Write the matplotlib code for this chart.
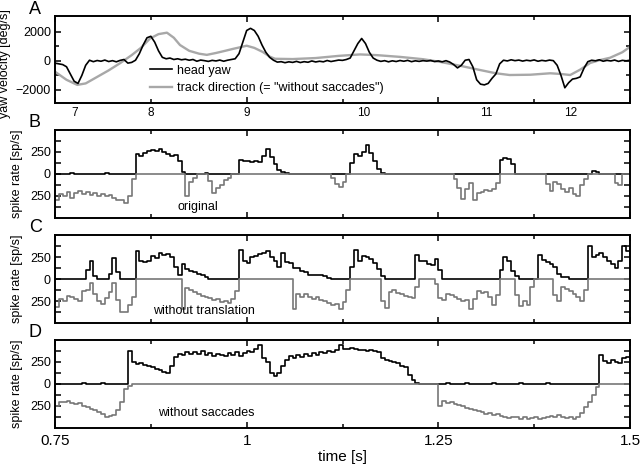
import numpy as np
import matplotlib.pyplot as plt

plt.rcParams['font.family'] = ['Liberation Sans', 'DejaVu Sans']

# sample spacing of the traces [s]
t0 = 0.75
dt = 0.005

# panel A: head yaw [deg/s], one value every 5 ms from 0.75 s
head_yaw = [
    -150, -200, -250, -400, -900, -1400, -1550, -1000, -300, 50,
    -50, 30, -20, 60, -40, 20, -60, 40, 100, -150,
    -100, 50, 500, 1100, 1600, 1700, 1300, 700, 250, 150,
    200, 100, 150, 80, 120, 50, 100, -20, 60, 20,
    -30, 40, 0, 60, -20, 50, 100, 150, 500, 1300,
    2100, 2250, 2100, 1700, 1100, 600, 250, 50, -80, -50,
    -120, -60, -100, -30, -110, -50, -90, 0, -70, -20,
    -60, 30, -40, 10, 60, 40, 100, 200, 700, 1200,
    1550, 1200, 600, 200, 50, -30, 20, -60, 10, -40,
    30, -20, 40, -50, 10, -30, 20, -10, 30, -40,
    0, -60, 20, -80, -250, -480, -300, 50, 100, -400,
    -1300, -1600, -1650, -1550, -1200, -900, -200, 50, 0, 80,
    20, 60, -10, 50, 10, 70, -20, 40, 0, 60,
    20, -300, -1000, -1850, -1500, -1250, -1200, -1100, -500, -50,
    50, 10, 80, -20, 40, 0, 60, -30, 40, 10,
    50,
]

# panel A: track direction [deg/s], knots
track_t = [0.75, 0.765, 0.779, 0.79, 0.80, 0.81, 0.82, 0.835, 0.85, 0.862,
           0.874, 0.885, 0.896, 0.905, 0.913, 0.925, 0.938, 0.948, 0.96, 0.972,
           0.982, 0.992, 1.0, 1.01, 1.021, 1.03, 1.037, 1.06, 1.09, 1.12,
           1.148, 1.17, 1.20, 1.23, 1.253, 1.28, 1.304, 1.325, 1.343, 1.37,
           1.396, 1.41, 1.422, 1.435, 1.448, 1.46, 1.474, 1.49, 1.50]
track_v = [-740, -1300, -1650, -1550, -1250, -950, -650, -150, 400, 900,
           1550, 1850, 1950, 1600, 1100, 700, 500, 420, 550, 700,
           830, 950, 1050, 900, 620, 300, 150, 130, 200, 350,
           450, 400, 280, 120, -70, -350, -620, -850, -970, -950,
           -850, -900, -970, -600, -140, 50, 220, 600, 970]

# panels B-D: spike rates [sp/s], one value every 5 ms from 0.75 s
b_black = [
    0, 0, 0, 0, 8, 0, 0, 0, 0, 0,
    0, 0, 0, 8, 0, 0, 0, 0, 0, 0,
    0, 230, 200, 240, 265, 275, 260, 280, 245, 225,
    205, 220, 150, 20, 0, 0, 0, 0, 0, 10,
    0, 0, 0, 0, 0, 0, 0, 0, 160, 145,
    150, 140, 150, 135, 200, 285, 190, 110, 50, 20,
    10, 0, 0, 0, 0, 0, 0, 0, 0, 0,
    0, 0, 0, 0, 0, 0, 0, 130, 230, 200,
    250, 330, 240, 150, 60, 10, 0, 0, 0, 0,
    0, 0, 0, 0, 0, 0, 0, 0, 0, 0,
    0, 0, 0, 0, 0, 0, 0, 0, 0, 0,
    0, 0, 0, 0, 0, 0, 160, 180, 170, 110,
    0, 0, 0, 0, 0, 0, 0, 0, 0, 0,
    0, 0, 0, 0, 0, 0, 0, 0, 0, 0,
    30, 20, 0, 0, 0, 0, 0, 0, 0, 0,
    0,
]
b_gray = [
    -300, -230, -250, -210, -270, -220, -190, -230, -200, -240,
    -215, -250, -225, -255, -240, -270, -300, -290, -330, -250,
    -60, 0, 0, 0, 0, 0, 0, 0, 0, 0,
    0, 0, 0, 0, -250, -90, -40, 0, 0, 0,
    -80, -220, -160, -120, -70, -40, 0, 0, 0, 0,
    0, 0, 0, 0, 0, 0, 0, 0, 0, 0,
    0, 0, 0, 0, 0, 0, 0, 0, 0, 0,
    0, 0, -50, -110, -150, -90, 0, 0, 0, 0,
    0, 0, 0, 0, 0, 0, 0, 0, 0, 0,
    0, 0, 0, 0, 0, 0, 0, 0, 0, 0,
    0, 0, 0, 0, -60, -160, -280, -170, -100, -300,
    -220, -200, -180, -190, -175, -100, 0, 0, 0, 0,
    0, 0, 0, 0, 0, 0, 0, 0, -110, -190,
    -90, -110, -170, -200, -160, -230, -250, -130, -60, 0,
    0, 0, 0, 0, 0, 0, -100, -120, 0, 0,
    0,
]
c_black = [
    0, 0, 0, 0, 0, 0, 0, 0, 100, 210,
    30, 0, 0, 0, 60, 240, 80, 0, 0, 0,
    0, 320, 200, 190, 200, 260, 240, 290, 270, 280,
    250, 140, 45, 170, 110, 90, 80, 60, 40, 25,
    0, 0, 0, 0, 0, 0, 0, 0, 330, 200,
    180, 250, 260, 280, 300, 320, 250, 210, 140, 300,
    190, 180, 130, 120, 90, 80, 50, 45, 40, 45,
    30, 10, 0, 0, 0, 0, 0, 140, 325, 200,
    260, 250, 230, 180, 110, 30, 0, 0, 0, 0,
    0, 0, 0, 0, 270, 210, 200, 175, 160, 230,
    100, 0, 0, 0, 0, 0, 0, 0, 0, 0,
    0, 0, 0, 0, 0, 0, 100, 250, 200, 90,
    30, 0, 0, 0, 0, 0, 270, 220, 190, 175,
    140, 60, 25, 20, 0, 0, 0, 0, 0, 380,
    250, 270, 290, 250, 200, 170, 130, 210, 380, 320,
    345,
]
c_gray = [
    -320, -230, -250, -190, -210, -230, -250, -140, -120, -50,
    -170, -250, -280, -220, -150, -50, -240, -380, -370, -300,
    -200, 0, 0, 0, 0, 0, 0, 0, 0, 0,
    0, 0, 0, -340, -100, -130, -150, -170, -190, -200,
    -220, -240, -230, -260, -250, -270, -230, -140, 0, 0,
    0, 0, 0, 0, 0, 0, 0, 0, 0, 0,
    0, 0, -340, -170, -210, -170, -200, -230, -210, -240,
    -250, -270, -300, -280, -340, -260, -120, 0, 0, 0,
    0, 0, 0, 0, 0, -250, -330, -150, -130, -160,
    -170, -190, -200, -220, -90, 0, 0, 0, 0, -60,
    -220, -240, -170, -180, -200, -230, -250, -240, -340, -230,
    -140, -160, -150, -200, -300, -180, 0, 0, 0, 0,
    -180, -310, -250, -300, -90, 0, 0, 0, 0, 0,
    -180, -250, -90, -110, -140, -170, -200, -250, -120, 0,
    0, 0, 0, 0, 0, 0, 0, 0, 0, 0,
    0,
]
d_black = [
    0, 0, 0, 0, 0, 0, 0, 8, 0, 0,
    0, 0, 8, 0, 0, 0, 0, 0, 0, 380,
    250, 230, 240, 220, 210, 190, 170, 160, 140, 130,
    200, 310, 345, 335, 360, 340, 365, 345, 370, 330,
    350, 320, 345, 330, 315, 350, 330, 360, 320, 350,
    375, 360, 400, 440, 300, 250, 130, 90, 130, 200,
    270, 320, 300, 330, 310, 345, 320, 350, 330, 360,
    350, 375, 365, 390, 440, 400, 395, 410, 395, 385,
    390, 380, 385, 375, 360, 300, 270, 260, 250, 240,
    200, 190, 100, 40, 10, 0, 0, 0, 0, 0,
    0, 0, 8, 0, 0, 0, 0, 8, 0, 0,
    0, 0, 0, 0, 8, 0, 0, 0, 0, 0,
    0, 8, 0, 0, 0, 0, 0, 0, 8, 0,
    0, 0, 0, 0, 0, 0, 0, 0, 0, 0,
    0, 0, 330, 260, 240, 270, 250, 240, 300, 310,
    340,
]
d_gray = [
    -250, -200, -210, -190, -220, -230, -215, -250, -260, -280,
    -290, -320, -340, -370, -360, -350, -300, -200, -60, -20,
    0, 0, 0, 0, 0, 0, 0, 0, 0, 0,
    0, 0, 0, 0, 0, 0, 0, 0, 0, 0,
    0, 0, 0, 0, 0, 0, 0, 0, 0, 0,
    0, 0, 0, 0, 0, 0, 0, 0, 0, 0,
    0, 0, 0, 0, 0, 0, 0, 0, 0, 0,
    0, 0, 0, 0, 0, 0, 0, 0, 0, 0,
    0, 0, 0, 0, 0, 0, 0, 0, 0, 0,
    0, 0, 0, 0, 0, 0, 0, 0, 0, 0,
    -250, -190, -220, -200, -230, -240, -250, -270, -280, -300,
    -310, -320, -340, -330, -350, -345, -360, -370, -385, -375,
    -380, -395, -380, -400, -390, -380, -395, -385, -370, -360,
    -380, -350, -370, -390, -380, -395, -380, -330, -260, -200,
    -120, -30, 0, 0, 0, 0, 0, 0, 0, 0,
    0,
]

# tick labels of the time axis in panel A (positions in the 0.75-1.5 s frame)
a_label_pos = [0.776, 0.875, 1.0, 1.152, 1.312, 1.422]
a_labels = ['7', '8', '9', '10', '11', '12']

panels = [
    ('B', b_black, b_gray, 'original', (0.937, -370)),
    ('C', c_black, c_gray, 'without translation', (0.944, -362)),
    ('D', d_black, d_gray, 'without saccades', (0.947, -326)),
]


def times(vals):
    return t0 + dt * np.arange(len(vals))


def style_axis(ax):
    for s in ax.spines.values():
        s.set_linewidth(1.4)
    ax.set_xlim(0.75, 1.5)
    ax.set_xticks([0.75, 1.0, 1.25, 1.5])
    ax.set_xticks([0.875, 1.125, 1.375], minor=True)
    ax.tick_params(which='both', direction='in', top=True, right=True, width=1.1)
    ax.tick_params(which='major', length=4.5)
    ax.tick_params(which='minor', length=3)
    ax.tick_params(axis='y', labelsize=9, pad=3)


fig = plt.figure(figsize=(6.4, 4.66), dpi=100)
W, H = 640, 466
L, R = 55, 630

# panel A
axA = fig.add_axes([L / W, 1 - 103 / H, (R - L) / W, 87 / H])
style_axis(axA)
axA.plot(track_t, track_v, color='#a8a8a8', lw=1.7,
         label='track direction (= "without saccades")')
axA.plot(times(head_yaw), head_yaw, color='black', lw=1.2, label='head yaw')
axA.set_ylim(-2900, 3100)
axA.set_yticks([-2000, 0, 2000])
axA.set_yticks([-1000, 1000], minor=True)
axA.set_xticklabels([])
sec = axA.secondary_xaxis('bottom')
sec.set_xticks(a_label_pos, labels=a_labels)
sec.tick_params(length=0, labelsize=8.5, pad=3)
sec.spines['bottom'].set_visible(False)
h, lab = axA.get_legend_handles_labels()
axA.legend(h[::-1], lab[::-1], loc='upper left', bbox_to_anchor=(0.165, 0.44),
           frameon=False, fontsize=9, borderpad=0, borderaxespad=0,
           handlelength=1.8, handletextpad=0.4, labelspacing=0.45)
axA.set_ylabel('yaw velocity [deg/s]', fontsize=9)
axA.yaxis.set_label_coords(-0.077, 0.45)
fig.text(29 / W, 1 - 18 / H, 'A', fontsize=13, ha='left', va='bottom')

# panels B-D
tops = [130, 235, 340]
for (letter, blk, gry, note, pos), top in zip(panels, tops):
    ax = fig.add_axes([L / W, 1 - (top + 88) / H, (R - L) / W, 88 / H])
    style_axis(ax)
    ax.plot(times(blk), blk, color='black', lw=1.2, drawstyle='steps-post')
    ax.plot(times(gry), gry, color='#777777', lw=1.2, drawstyle='steps-post')
    ax.set_ylim(-500, 500)
    ax.set_yticks([-375, -250, -125, 0, 125, 250, 375],
                  labels=['', '250', '', '0', '', '250', ''])
    ax.set_ylabel('spike rate [sp/s]', fontsize=9)
    ax.yaxis.set_label_coords(-0.056, 0.5)
    ax.text(pos[0], pos[1], note, fontsize=9, ha='center', va='center')
    fig.text(29 / W, 1 - (top + 1) / H, letter, fontsize=13, ha='left', va='bottom')
    if letter == 'D':
        ax.set_xticklabels(['0.75', '1', '1.25', '1.5'])
        ax.tick_params(axis='x', labelsize=11, pad=4)
        ax.set_xlabel('time [s]', fontsize=11, labelpad=2)
    else:
        ax.set_xticklabels([])

fig.savefig('out.png', dpi=100)
